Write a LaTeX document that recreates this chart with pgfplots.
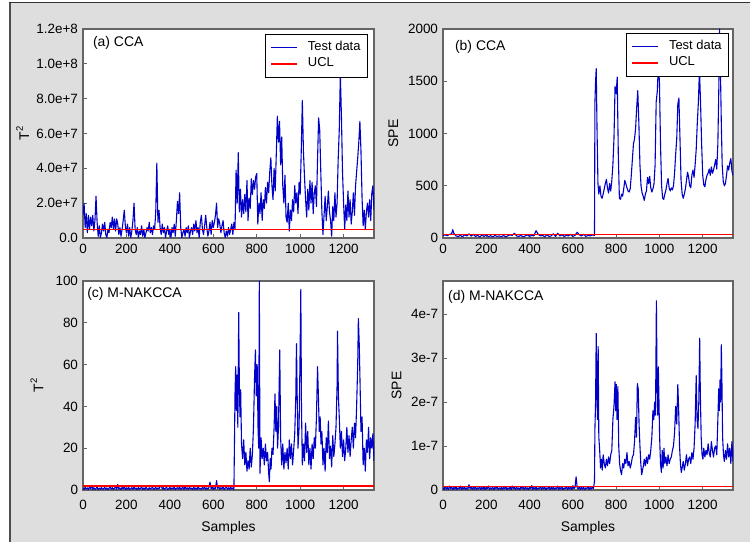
\documentclass[border=0pt]{standalone}
\usepackage{fontspec}
\setmainfont{Liberation Sans}
\usepackage{pgfplots}
\pgfplotsset{compat=1.18}
\definecolor{bg}{RGB}{222,222,222}
\definecolor{axgray}{RGB}{100,100,100}
\newcommand{\Tsq}{T\raisebox{0.45em}{\fontsize{9.5}{9.5}\selectfont 2}}
\tikzset{
  ttl/.style={anchor=west, inner sep=0pt, font=\fontsize{14}{14}\selectfont},
}
\pgfplotsset{
  panel/.style={
    scale only axis, width=291bp, height=209bp,
    xmin=0, xmax=1340, ymin=0,
    xtick={0,200,...,1200},
    axis line style={color=axgray, line width=1.2bp},
    tick style={color=axgray, line width=0.8bp},
    major tick length=4bp,
    tick align=inside,
    xtick pos=bottom, ytick pos=left,
    axis background/.style={fill=white},
    tick label style={font=\fontsize{13.5}{13.5}\selectfont},
    yticklabel style={xshift=-1.5bp},
    label style={font=\fontsize{14}{14}\selectfont},
    /pgf/number format/assume math mode=true,
    /pgf/number format/1000 sep={},
    xlabel style={at={(axis description cs:0.5,-0.18)}, anchor=center},
    legend style={anchor=north east, draw=black, line width=0.7bp, fill=white,
      font=\fontsize{13}{13}\selectfont, inner xsep=5bp, inner ysep=5.5bp,
      nodes={inner sep=2bp, text height=9bp, text depth=3bp}, row sep=0bp},
    legend cell align=left,
    legend image code/.code={\draw[##1] (0bp,0bp) -- (26bp,0bp); \path (34bp,0bp);},
  },
}
\begin{document}
\begin{tikzpicture}
\useasboundingbox (0,0) rectangle (750bp,542bp);
\fill[white] (0,0) rectangle (750bp,542bp);
\fill[bg] (10bp,0) rectangle (750bp,539bp);
\draw[color=black!70, line width=2bp] (10bp,0) -- (10bp,539bp);
\draw[color=black!80, line width=1bp] (9bp,539bp) -- (750bp,539bp);

% (a) CCA T2 (values in units of 1e7)
\begin{axis}[panel, at={(83bp,304bp)}, anchor=south west, ymax=12,
  xticklabel style={yshift=-3bp},
  ytick={0,2,4,6,8,10,12}, yticklabels={0.0,2.0e+7,4.0e+7,6.0e+7,8.0e+7,1.0e+8,1.2e+8},
  ylabel={\Tsq}, ylabel style={at={(axis description cs:-0.207,0.5)}, anchor=center},
  legend style={at={(rel axis cs:0.979,0.976)}}]
\addlegendimage{draw={rgb,255:red,0;green,0;blue,200}, line width=1.1bp}
\addlegendentry{Test data}
\addlegendimage{draw={rgb,255:red,255;green,0;blue,0}, line width=1.5bp}
\addlegendentry{UCL}
\addplot[draw={rgb,255:red,0;green,0;blue,200}, line width=1.1bp, line join=round, forget plot] coordinates {
(0,1.3) (5,2.0) (10,0.6) (15,1.4) (20,0.3) (25,1.3) (30,0.5) (35,1.2) (40,0.7) (45,1.3)
(50,0.4) (55,1.0) (60,2.4) (65,0.9) (70,0.1) (75,0.7) (80,0.02) (85,0.3) (90,0.8) (95,0.4)
(100,0.9) (105,0.2) (110,0.02) (115,0.5) (120,0.3) (125,0.9) (130,0.6) (135,1.2) (140,0.5) (145,1.1)
(150,0.4) (155,1.1) (160,0.8) (165,0.2) (170,0.6) (175,0.1) (180,0.5) (185,1.0) (190,1.6) (195,0.7)
(200,0.3) (205,0.8) (210,0.1) (215,0.6) (220,0.02) (225,0.4) (230,1.0) (235,2.0) (240,0.5) (245,0.2)
(250,0.6) (255,0.02) (260,0.4) (265,0.2) (270,0.7) (275,0.1) (280,0.5) (285,0.02) (290,0.3) (295,0.6)
(300,0.4) (305,0.9) (310,0.3) (315,0.6) (320,0.2) (325,0.7) (330,0.5) (335,1.5) (340,4.3) (345,0.9)
(350,1.6) (355,0.6) (360,0.2) (365,0.8) (370,0.3) (375,0.6) (380,0.02) (385,0.4) (390,0.7) (395,0.2)
(400,0.5) (405,0.02) (410,0.6) (415,0.3) (420,0.8) (425,0.1) (430,1.0) (435,2.1) (440,1.4) (445,2.6)
(450,0.6) (455,0.02) (460,0.3) (465,0.5) (470,0.1) (475,0.6) (480,0.3) (485,0.7) (490,0.02) (495,0.4)
(500,0.6) (505,0.2) (510,0.8) (515,0.4) (520,1.0) (525,0.3) (530,0.6) (535,0.02) (540,0.9) (545,1.3)
(550,0.5) (555,0.2) (560,0.7) (565,1.3) (570,0.6) (575,0.1) (580,0.4) (585,0.9) (590,0.2) (595,1.0)
(600,0.6) (605,0.9) (610,1.3) (615,2.0) (620,0.6) (625,1.1) (630,0.8) (635,0.3) (640,0.7) (645,1.0)
(650,0.3) (655,0.02) (660,0.4) (665,0.1) (670,0.6) (675,0.2) (680,0.5) (685,0.8) (690,0.2) (695,0.9)
(700,0.5) (705,3.9) (710,2.0) (715,4.9) (720,1.5) (725,2.8) (730,1.2) (735,2.2) (740,1.4) (745,2.5)
(750,1.5) (755,3.3) (760,1.0) (765,2.3) (770,1.7) (775,3.4) (780,2.5) (785,3.3) (790,2.8) (795,3.5)
(800,3.7) (805,0.8) (810,2.0) (815,1.4) (820,2.6) (825,1.0) (830,2.2) (835,1.7) (840,2.9) (845,2.0)
(850,3.2) (855,2.6) (860,3.8) (865,4.6) (870,3.0) (875,2.2) (880,4.0) (885,2.7) (890,4.8) (895,7.0)
(900,5.5) (905,6.7) (910,4.2) (915,5.8) (920,3.0) (925,2.0) (930,3.6) (935,1.2) (940,0.9) (945,2.0)
(950,0.4) (955,1.6) (960,1.0) (965,2.2) (970,1.5) (975,3.0) (980,2.0) (985,2.6) (990,1.4) (995,3.2)
(1000,2.5) (1005,5.0) (1010,7.9) (1015,5.0) (1020,3.5) (1025,2.2) (1030,1.2) (1035,2.8) (1040,1.6) (1045,3.3)
(1050,2.0) (1055,3.2) (1060,1.4) (1065,2.6) (1070,3.0) (1075,1.8) (1080,4.5) (1085,6.9) (1090,6.2) (1095,3.8)
(1100,1.5) (1105,0.2) (1110,1.3) (1115,2.4) (1120,1.0) (1125,1.8) (1130,2.7) (1135,1.5) (1140,1.0) (1145,0.1)
(1150,1.8) (1155,1.0) (1160,2.6) (1165,1.2) (1170,2.0) (1175,4.5) (1180,6.2) (1185,9.4) (1190,7.0) (1195,3.8)
(1200,2.0) (1205,0.5) (1210,1.9) (1215,1.0) (1220,2.7) (1225,1.2) (1230,2.2) (1235,0.8) (1240,1.5) (1245,2.6)
(1250,1.3) (1255,3.0) (1260,3.8) (1265,4.6) (1270,5.5) (1275,6.7) (1280,5.0) (1285,2.3) (1290,0.7) (1295,1.6)
(1300,0.5) (1305,1.5) (1310,2.0) (1315,1.2) (1320,2.2) (1325,1.0) (1330,2.6) (1335,3.0) (1340,1.6)
};
\addplot[draw={rgb,255:red,255;green,0;blue,0}, line width=1.5bp, forget plot] coordinates {(0,0.5) (1340,0.5)};
\node[ttl] at (rel axis cs:0.034,0.932) {(a) CCA};
\end{axis}

% (b) CCA SPE
\begin{axis}[panel, at={(443bp,304bp)}, anchor=south west, width=290bp, ymax=2000,
  xticklabel style={yshift=-3bp},
  ytick={0,500,...,2000},
  ylabel={SPE}, ylabel style={at={(axis description cs:-0.171,0.5)}, anchor=center},
  legend style={at={(rel axis cs:0.986,0.981)}}]
\addlegendimage{draw={rgb,255:red,0;green,0;blue,200}, line width=1.1bp}
\addlegendentry{Test data}
\addlegendimage{draw={rgb,255:red,255;green,0;blue,0}, line width=1.5bp}
\addlegendentry{UCL}
\addplot[draw={rgb,255:red,0;green,0;blue,200}, line width=1.1bp, line join=round, forget plot] coordinates {
(0,25) (10,30) (20,22) (30,35) (40,40) (45,80) (50,45) (60,20) (70,15) (80,25)
(90,12) (100,30) (110,20) (120,40) (130,18) (140,35) (150,15) (160,25) (170,10) (180,28)
(190,15) (200,30) (210,12) (220,22) (230,10) (240,25) (250,15) (260,20) (270,12) (280,25)
(290,10) (300,22) (310,30) (320,25) (330,45) (340,20) (350,15) (360,25) (370,10) (380,20)
(390,30) (400,15) (410,25) (420,20) (430,70) (440,35) (450,20) (460,25) (470,12) (480,30)
(490,15) (500,20) (510,40) (520,15) (530,45) (540,20) (550,30) (560,15) (570,25) (580,20)
(590,35) (600,15) (610,25) (620,55) (630,30) (640,20) (650,35) (660,15) (670,25) (680,20)
(690,30) (700,25)
(702,1300) (705,1500) (708,1620) (712,1000) (716,520) (720,420) (725,500) (730,400) (735,380) (740,420)
(745,470) (750,520) (755,560) (760,480) (765,430) (770,520) (775,450) (780,550) (785,700) (790,950)
(795,1450) (800,1380) (805,1540) (810,800) (815,380) (820,370) (825,420) (830,400) (835,470) (840,550)
(845,520) (850,480) (855,450) (860,440) (865,470) (870,600) (875,750) (880,900) (885,950) (890,1050)
(895,1250) (900,1410) (905,1100) (910,700) (915,500) (920,430) (925,400) (930,360) (935,420) (940,450)
(945,580) (950,520) (955,590) (960,480) (965,440) (970,470) (975,520) (980,700) (985,1300) (990,1400)
(995,1640) (1000,1500) (1005,900) (1010,500) (1015,380) (1020,370) (1025,420) (1030,460) (1035,520) (1040,570)
(1045,480) (1050,450) (1055,480) (1060,460) (1065,500) (1070,620) (1075,800) (1080,950) (1085,1280) (1090,1340)
(1095,950) (1100,550) (1105,420) (1110,380) (1115,420) (1120,470) (1125,550) (1130,630) (1135,580) (1140,500)
(1145,480) (1150,600) (1155,650) (1160,580) (1165,700) (1170,850) (1175,1100) (1180,1300) (1185,1610) (1190,1300)
(1195,900) (1200,600) (1205,510) (1210,490) (1215,560) (1220,600) (1225,620) (1230,660) (1235,600) (1240,680)
(1245,620) (1250,650) (1255,700) (1260,750) (1265,660) (1270,900) (1275,1500) (1278,2000) (1282,1600) (1286,1100)
(1290,700) (1295,540) (1300,500) (1305,520) (1310,600) (1315,690) (1320,650) (1325,720) (1330,760) (1335,640)
(1340,600)
};
\addplot[draw={rgb,255:red,255;green,0;blue,0}, line width=1.5bp, forget plot] coordinates {(0,35) (1340,35)};
\node[ttl] at (rel axis cs:0.041,0.915) {(b) CCA};
\end{axis}

% (c) M-NAKCCA T2
\begin{axis}[panel, at={(83bp,52bp)}, anchor=south west, ymax=100,
  xticklabel style={yshift=-7bp},
  ytick={0,20,...,100},
  xlabel={Samples},
  ylabel={\Tsq}, ylabel style={at={(axis description cs:-0.158,0.5)}, anchor=center}]
\addplot[draw={rgb,255:red,0;green,0;blue,200}, line width=1.1bp, line join=round] coordinates {
(0,0.9) (5,0.2) (10,1.3) (15,0.4) (20,1.0) (25,0.1) (30,1.5) (35,0.6) (40,2.2) (45,0.3)
(50,1.1) (55,0.2) (60,0.8) (65,1.4) (70,0.1) (75,0.9) (80,0.4) (85,1.2) (90,0.2) (95,0.7)
(100,1.3) (105,0.3) (110,1.0) (115,0.1) (120,0.8) (125,1.5) (130,0.4) (135,1.1) (140,0.2) (145,0.9)
(150,1.4) (155,0.3) (160,2.6) (165,0.5) (170,1.0) (175,0.1) (180,1.2) (185,0.6) (190,1.6) (195,0.2)
(200,0.9) (205,0.4) (210,1.3) (215,0.1) (220,0.7) (225,1.1) (230,0.3) (235,1.4) (240,0.5) (245,0.9)
(250,0.1) (255,1.2) (260,0.4) (265,0.8) (270,1.5) (275,0.2) (280,1.0) (285,0.3) (290,1.3) (295,0.6)
(300,0.1) (305,1.1) (310,0.4) (315,0.9) (320,1.4) (325,0.2) (330,0.8) (335,1.2) (340,0.3) (345,1.0)
(350,0.5) (355,1.6) (360,2.2) (365,0.4) (370,1.1) (375,0.2) (380,0.9) (385,1.3) (390,0.1) (395,0.7)
(400,1.2) (405,0.3) (410,1.0) (415,0.5) (420,1.4) (425,0.2) (430,0.8) (435,1.1) (440,0.4) (445,1.5)
(450,0.1) (455,0.9) (460,1.2) (465,0.3) (470,1.7) (475,0.5) (480,1.0) (485,0.2) (490,1.3) (495,0.6)
(500,0.9) (505,0.1) (510,1.4) (515,0.4) (520,1.0) (525,0.3) (530,1.6) (535,0.5) (540,0.8) (545,0.2)
(550,1.2) (555,0.6) (560,1.5) (565,0.3) (570,1.0) (575,0.4) (580,1.2) (585,3.8) (590,0.5) (595,1.3)
(600,0.2) (605,1.0) (610,0.6) (615,4.5) (620,0.8) (625,1.4) (630,0.3) (635,1.1) (640,0.5) (645,1.6)
(650,0.2) (655,0.9) (660,1.3) (665,0.4) (670,1.1) (675,0.2) (680,1.4) (685,0.5) (690,1.0) (695,0.3)
(700,46) (703,59) (706,38) (710,55) (713,30) (717,85) (720,50) (723,35) (726,48) (730,22)
(735,15) (740,24) (745,12) (750,18) (755,9) (760,14) (765,10) (770,20) (775,11) (780,17)
(785,30) (790,54) (794,67) (798,45) (802,60) (806,30) (809,20) (812,100) (815,8) (820,25)
(825,15) (830,20) (835,12) (840,22) (845,14) (850,18) (855,8) (858,4) (862,15) (866,10)
(870,20) (875,17) (880,30) (884,46) (888,28) (892,40) (896,20) (900,30) (906,67) (910,25)
(915,12) (920,22) (925,10) (930,18) (935,13) (940,20) (945,10) (950,24) (955,15) (960,22)
(965,12) (970,19) (975,27) (980,45) (983,70) (987,40) (990,20) (995,30) (999,60) (1003,96)
(1006,40) (1010,12) (1015,22) (1020,14) (1025,32) (1030,18) (1035,28) (1040,12) (1045,20) (1050,10)
(1055,22) (1060,15) (1065,25) (1070,20) (1075,35) (1080,59) (1084,45) (1088,28) (1092,35) (1096,22)
(1100,28) (1105,12) (1110,20) (1115,9) (1120,25) (1125,18) (1130,33) (1135,15) (1140,21) (1145,11)
(1150,26) (1155,16) (1160,22) (1165,30) (1170,50) (1172,76) (1176,45) (1180,35) (1185,20) (1190,28)
(1195,16) (1200,24) (1205,14) (1210,20) (1215,30) (1220,18) (1225,26) (1230,16) (1235,24) (1240,30)
(1245,20) (1250,32) (1255,25) (1260,40) (1265,60) (1268,82) (1272,70) (1276,50) (1280,28) (1285,35)
(1290,12) (1295,20) (1300,9) (1305,24) (1310,18) (1315,30) (1320,15) (1325,25) (1330,20) (1335,27)
(1340,14)
};
\addplot[draw={rgb,255:red,255;green,0;blue,0}, line width=1.5bp] coordinates {(0,2.0) (1340,2.0)};
\node[ttl] at (rel axis cs:0.014,0.938) {(c) M-NAKCCA};
\end{axis}

% (d) M-NAKCCA SPE (values in units of 1e-7)
\begin{axis}[panel, at={(443bp,52bp)}, anchor=south west, width=290bp, ymax=4.75,
  xticklabel style={yshift=-7bp},
  ytick={0,1,2,3,4}, yticklabels={0,1e-7,2e-7,3e-7,4e-7},
  xlabel={Samples},
  ylabel={SPE}, ylabel style={at={(axis description cs:-0.160,0.5)}, anchor=center}]
\addplot[draw={rgb,255:red,0;green,0;blue,200}, line width=1.1bp, line join=round] coordinates {
(0,0.05) (5,0.01) (10,0.08) (15,0.02) (20,0.06) (25,0.00) (30,0.09) (35,0.03) (40,0.07) (45,0.01)
(50,0.06) (55,0.02) (60,0.08) (65,0.00) (70,0.05) (75,0.03) (80,0.09) (85,0.01) (90,0.06) (95,0.02)
(100,0.07) (105,0.00) (110,0.05) (115,0.02) (120,0.12) (125,0.03) (130,0.07) (135,0.01) (140,0.06) (145,0.02)
(150,0.08) (155,0.00) (160,0.05) (165,0.03) (170,0.07) (175,0.01) (180,0.06) (185,0.02) (190,0.08) (195,0.00)
(200,0.06) (205,0.03) (210,0.09) (215,0.01) (220,0.05) (225,0.02) (230,0.07) (235,0.00) (240,0.06) (245,0.03)
(250,0.08) (255,0.01) (260,0.05) (265,0.02) (270,0.07) (275,0.00) (280,0.06) (285,0.03) (290,0.08) (295,0.01)
(300,0.05) (305,0.02) (310,0.07) (315,0.00) (320,0.09) (325,0.03) (330,0.06) (335,0.01) (340,0.07) (345,0.02)
(350,0.05) (355,0.00) (360,0.08) (365,0.03) (370,0.06) (375,0.01) (380,0.07) (385,0.02) (390,0.05) (395,0.00)
(400,0.08) (405,0.03) (410,0.10) (415,0.01) (420,0.06) (425,0.02) (430,0.07) (435,0.00) (440,0.05) (445,0.03)
(450,0.08) (455,0.01) (460,0.06) (465,0.02) (470,0.07) (475,0.00) (480,0.05) (485,0.03) (490,0.08) (495,0.01)
(500,0.06) (505,0.02) (510,0.07) (515,0.00) (520,0.05) (525,0.03) (530,0.09) (535,0.01) (540,0.06) (545,0.02)
(550,0.07) (555,0.00) (560,0.05) (565,0.03) (570,0.08) (575,0.01) (580,0.06) (585,0.02) (590,0.07) (595,0.00)
(600,0.10) (605,0.03) (610,0.06) (615,0.30) (620,0.05) (625,0.02) (630,0.08) (635,0.01) (640,0.06) (645,0.02)
(650,0.07) (655,0.00) (660,0.05) (665,0.03) (670,0.08) (675,0.01) (680,0.06) (685,0.02) (690,0.07) (695,0.03)
(700,0.2) (702,1.4) (705,2.0) (708,3.56) (711,2.2) (714,1.6) (717,3.26) (720,1.2) (724,0.9) (728,0.5)
(732,0.7) (736,0.45) (740,0.8) (745,0.6) (750,0.5) (755,0.7) (760,0.55) (765,0.75) (770,0.6) (775,0.8)
(780,0.9) (785,1.6) (790,1.9) (795,2.46) (798,1.8) (801,2.4) (804,1.6) (808,2.35) (812,1.0) (816,0.6)
(820,0.45) (825,0.35) (830,0.6) (835,0.5) (840,0.7) (845,0.6) (850,0.85) (855,0.55) (860,0.65) (865,0.5)
(870,0.6) (875,0.75) (880,0.8) (885,1.1) (890,1.65) (894,1.2) (898,2.42) (902,2.3) (906,1.5) (910,1.0)
(914,0.6) (918,0.35) (922,0.45) (926,0.55) (930,0.7) (935,0.55) (940,0.75) (945,0.6) (950,0.8) (955,0.7)
(960,0.9) (965,1.2) (970,1.8) (974,1.6) (978,2.0) (982,1.7) (986,4.3) (989,2.5) (992,1.7) (995,2.8)
(998,2.0) (1001,1.2) (1005,0.6) (1009,0.4) (1013,0.9) (1017,0.5) (1021,0.95) (1025,0.6) (1030,0.75) (1035,0.55)
(1040,0.8) (1045,0.6) (1050,0.7) (1055,0.75) (1060,0.9) (1065,1.0) (1070,1.3) (1075,1.9) (1080,1.5) (1085,2.4)
(1089,1.8) (1093,1.0) (1097,0.6) (1101,0.4) (1105,0.5) (1110,0.65) (1115,0.45) (1120,0.6) (1125,0.8) (1130,0.55)
(1135,0.7) (1140,0.75) (1145,0.6) (1150,0.85) (1155,0.7) (1160,0.95) (1165,1.5) (1170,2.6) (1174,1.6) (1178,1.4)
(1182,2.0) (1186,3.45) (1189,2.2) (1193,1.2) (1197,0.8) (1201,0.7) (1205,0.95) (1210,0.75) (1215,0.9) (1220,0.8)
(1225,1.05) (1230,0.85) (1235,0.75) (1240,1.1) (1245,0.9) (1250,0.75) (1255,0.95) (1260,1.0) (1265,0.8) (1270,1.6)
(1274,2.3) (1277,1.8) (1280,2.5) (1283,2.0) (1286,3.3) (1289,2.4) (1292,1.2) (1296,0.8) (1300,0.65) (1305,0.9)
(1310,0.7) (1315,1.05) (1320,0.75) (1325,0.95) (1330,0.6) (1335,1.1) (1340,0.65)
};
\addplot[draw={rgb,255:red,255;green,0;blue,0}, line width=1.5bp] coordinates {(0,0.075) (1340,0.075)};
\node[ttl] at (rel axis cs:0.017,0.923) {(d) M-NAKCCA};
\end{axis}
\end{tikzpicture}
\end{document}
